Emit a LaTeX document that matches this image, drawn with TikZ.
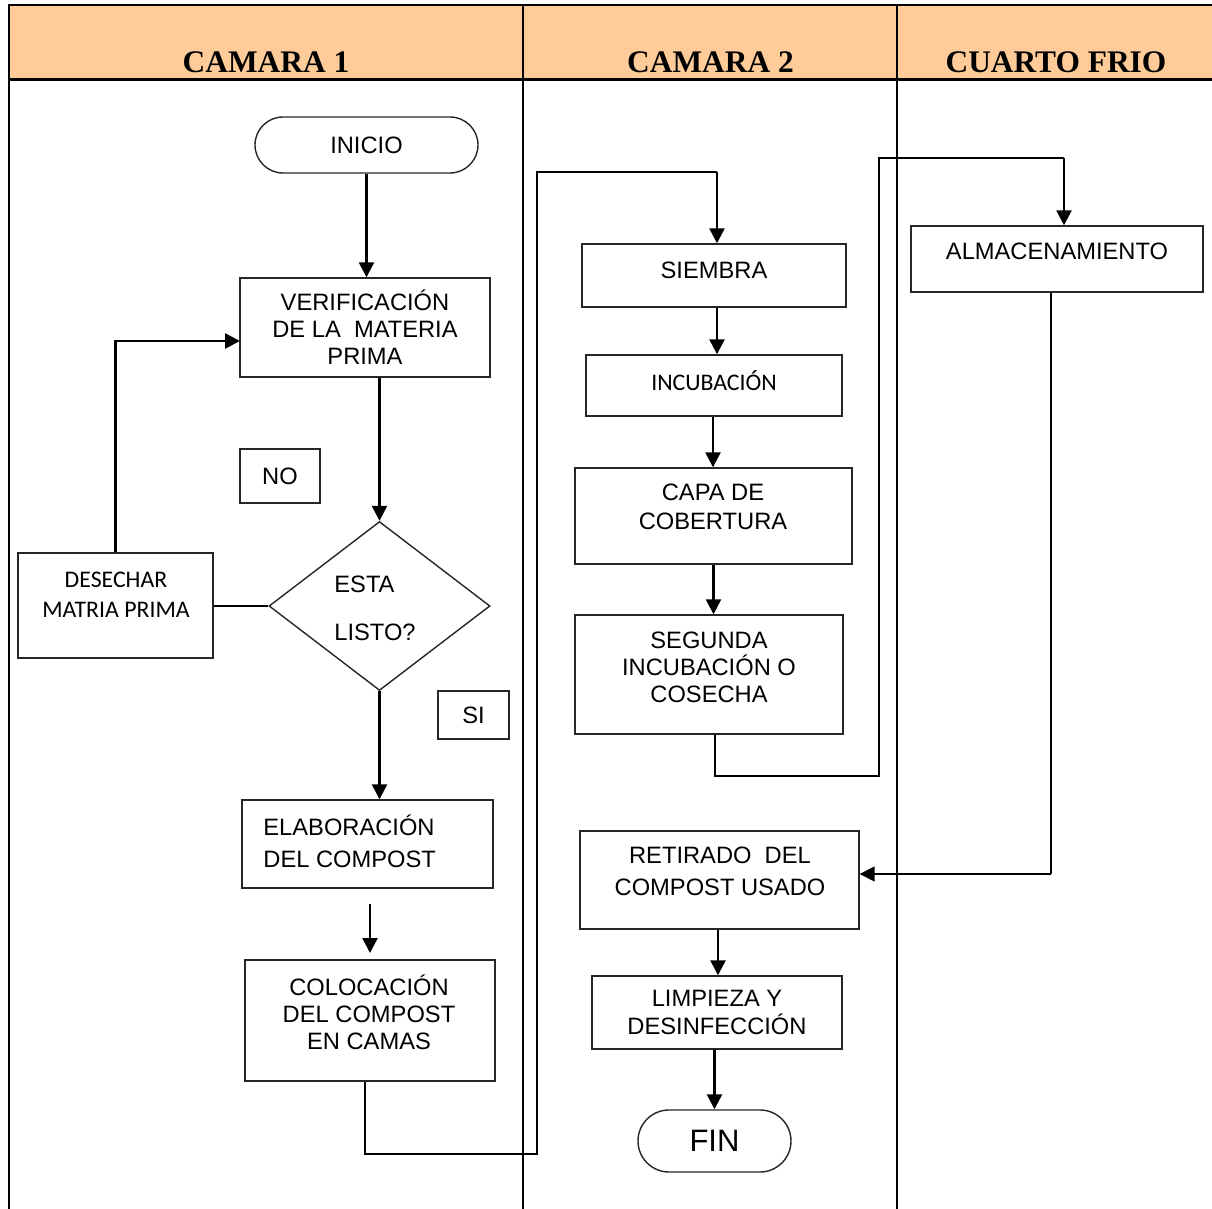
\documentclass[tikz,border=0pt]{standalone}
\usepackage{fontspec}
\setmainfont{Liberation Sans}
\newfontfamily\hdrfont{Liberation Serif}
\newfontfamily\calfont{Carlito}
\usetikzlibrary{shapes.geometric,arrows.meta}
\definecolor{hdrfill}{RGB}{255,204,153}
\begin{document}
\begin{tikzpicture}[x=0.5pt,y=-0.5pt,
  box/.style={draw=black!85, line width=0.7pt, inner sep=0pt, rectangle, align=center,
    font=\fontsize{11.85}{13.5}\selectfont},
  txt/.style={inner sep=0pt, align=center, font=\fontsize{11.85}{13.5}\selectfont},
  hdr/.style={inner sep=0pt, font=\hdrfont\bfseries\fontsize{15.7}{18}\selectfont},
  arr/.style={line width=1.25pt, -{Triangle[length=7.5pt,width=7.5pt]}},
  arrthin/.style={line width=0.8pt, -{Triangle[length=7.5pt,width=7.5pt]}},
  ln/.style={line width=0.8pt},
  grid/.style={line width=1.1pt}]
\useasboundingbox (0,0) rectangle (1212,1209);
% lanes
\fill[hdrfill] (9,5) rectangle (1212,80);
\draw[grid] (1212,5) -- (9,5) -- (9,1209);
\draw[line width=1.5pt] (9,80) -- (1212,80);
\draw[grid] (523,5) -- (523,1209);
\draw[grid] (897,5) -- (897,1209);
\node[hdr, anchor=base] (h1) at (266,73) {CAMARA 1};
\node[hdr, anchor=base] (h2) at (710.5,73) {CAMARA 2};
\node[hdr, anchor=base] (h3) at (1056,73) {CUARTO FRIO};
% column 1
\node[box, rounded corners=14pt, minimum width=111.5pt, minimum height=28pt] (inicio) at (366.5,145) {INICIO};
\node[box, minimum width=125pt, minimum height=49.5pt] (verif) at (365,327.5) {VERIFICACIÓN\\DE LA\ \ MATERIA\\PRIMA};
\node[box, minimum width=40pt, minimum height=27pt] (no) at (280,476) {NO};
\node[draw=black!85, line width=0.7pt, diamond, inner sep=0pt, minimum width=110.5pt, minimum height=84.5pt] (dia) at (379.5,606) {};
\node[txt, anchor=west] (esta) at (334,584) {ESTA};
\node[txt, anchor=west] (listo) at (334,632) {LISTO?};
\node[box, minimum width=97.5pt, minimum height=52.5pt] (desechar) at (115.5,605.5) {};
\node[txt, font=\calfont\fontsize{11.9}{13.5}\selectfont] (desechart) at (116,595) {DESECHAR\\[1.25pt]MATRIA PRIMA};
\node[box, minimum width=35.5pt, minimum height=24pt] (si) at (473.5,715) {SI};
\node[box, minimum width=125.5pt, minimum height=44pt] (elab) at (367.5,844) {};
\node[txt, anchor=west, align=left] (elabt) at (263,841) {ELABORACIÓN\\[2.5pt]DEL COMPOST};
\node[box, minimum width=125pt, minimum height=60.5pt] (coloc) at (370,1020.5) {};
\node[txt] (coloct) at (369,1012) {COLOCACIÓN\\DEL COMPOST\\EN CAMAS};
% column 2
\node[box, minimum width=132pt, minimum height=31.5pt] (siembra) at (714,275.5) {};
\node[txt] (siembrat) at (714,270) {SIEMBRA};
\node[box, minimum width=128pt, minimum height=30.5pt] (incub) at (714,385.5) {};
\node[txt, font=\calfont\fontsize{11.9}{13.5}\selectfont] (incubt) at (714,381) {INCUBACIÓN};
\node[box, minimum width=138.5pt, minimum height=48pt] (capa) at (713.5,516) {};
\node[txt] (capat) at (713,507) {CAPA DE\\[1pt]COBERTURA};
\node[box, minimum width=134pt, minimum height=59.5pt] (segunda) at (709,674.5) {};
\node[txt] (segundat) at (709,667) {SEGUNDA\\INCUBACIÓN O\\COSECHA};
\node[box, minimum width=139.5pt, minimum height=49pt] (retirado) at (719.5,880) {};
\node[txt] (retiradot) at (720,871) {RETIRADO\ \ DEL\\[2.5pt]COMPOST USADO};
\node[box, minimum width=125pt, minimum height=36.5pt] (limp) at (717,1012.5) {LIMPIEZA Y\\[0.5pt]DESINFECCIÓN};
\node[box, rounded corners=15.5pt, minimum width=76.5pt, minimum height=31pt, font=\fontsize{15.5}{18}\selectfont] (fin) at (714.5,1141) {FIN};
% column 3
\node[box, minimum width=146pt, minimum height=33pt] (almac) at (1057,259) {};
\node[txt] (almact) at (1057,251) {ALMACENAMIENTO};
% connectors
\draw[arr] (inicio.south) -- (inicio.south |- verif.north);
\coordinate (lp) at (240,341);
\draw[arr] (desechar.north) |- (lp);
\draw[arr] (dia.north |- verif.south) -- (dia.north);
\draw[ln] (dia.west) -- (dia.west -| desechar.east);
\draw[arr] (dia.south) -- (dia.south |- elab.north);
\coordinate (fa) at (370,904);
\coordinate (fb) at (370,953);
\draw[arr] (fa) -- (fb);
\coordinate (c1) at (365,1154);
\coordinate (c2) at (537,1154);
\coordinate (c3) at (537,172);
\coordinate (c4) at (717,172);
\draw[ln] (coloc.south -| c1) -- (c1) -- (c2) -- (c3) -- (c4);
\draw[arr] (c4) -- (c4 |- siembra.north);
\draw[arr] (siembra.south -| c4) -- (c4 |- incub.north);
\draw[arr] ([xshift=-0.5pt]incub.south) -- ([xshift=-0.5pt]incub.south |- capa.north);
\draw[arr] (capa.south) -- (capa.south |- segunda.north);
\coordinate (d1) at (715,776);
\coordinate (d2) at (879,776);
\coordinate (d3) at (879,158);
\coordinate (d4) at (1064,158);
\draw[ln] (segunda.south -| d1) -- (d1) -- (d2) -- (d3) -- (d4);
\draw[arr] (d4) -- (d4 |- almac.north);
\coordinate (e1) at (1051,874);
\draw[ln] (almac.south -| e1) -- (e1);
\draw[arrthin] (e1) -- (e1 -| retirado.east);
\draw[arr] ([xshift=-0.75pt]retirado.south) -- ([xshift=-0.75pt]retirado.south |- limp.north);
\draw[arr] (fin.north |- limp.south) -- (fin.north);
\end{tikzpicture}
\end{document}
